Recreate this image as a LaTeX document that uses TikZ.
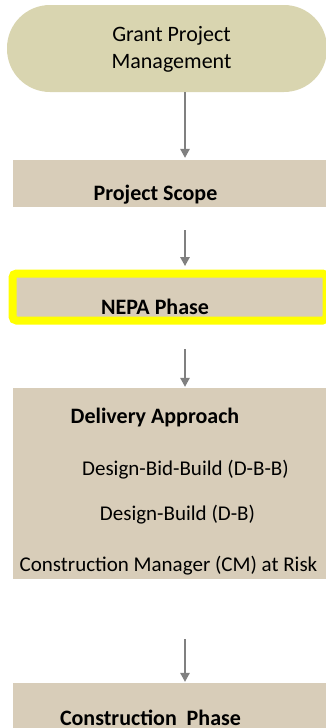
\documentclass[tikz,border=0pt]{standalone}
\usepackage{fontspec}
\setmainfont{Carlito}
\usetikzlibrary{arrows.meta}
\definecolor{pillfill}{RGB}{217,213,176}
\definecolor{boxfill}{RGB}{216,205,185}
\definecolor{arrowgray}{RGB}{128,128,128}
\definecolor{hilite}{RGB}{255,255,0}
\tikzset{
  stagebox/.style={rectangle, fill=boxfill, inner sep=0pt},
  pillbox/.style={rectangle, rounded corners=43pt, fill=pillfill, inner sep=0pt,
    minimum width=320pt, minimum height=87pt},
  hotbox/.style={stagebox, draw=hilite, line width=8pt, rounded corners=4pt},
  titletext/.style={inner sep=0pt, anchor=base, font=\bfseries\fontsize{22}{27}\selectfont},
  itemtext/.style={inner sep=0pt, anchor=base, font=\fontsize{21}{26}\selectfont},
  flow/.style={draw=arrowgray, line width=1.4pt, -{Triangle[width=9.5pt,length=9pt]}}
}
\begin{document}
\begin{tikzpicture}[x=1pt,y=-1pt]
  \useasboundingbox (0,0) rectangle (325,728);

  % stages
  \node[pillbox] (pill) at (167,48.5) {};
  \node[stagebox, minimum width=317pt, minimum height=47pt] (scope) at (171.5,183.5) {};
  \node[hotbox, minimum width=314pt, minimum height=47pt] (nepa) at (169.5,297) {};
  \node[stagebox, minimum width=317pt, minimum height=191pt] (deliv) at (171.5,483.5) {};
  \node[stagebox, minimum width=317pt, minimum height=52pt] (constr) at (171.5,709) {};

  % labels
  \node[inner sep=0pt, align=center, font=\fontsize{22}{27}\selectfont] (gpm) at (171.5,49)
    {Grant Project\\Management};
  \node[titletext] (scopet) at (155.5,200) {Project Scope};
  \node[titletext] (nepat) at (155,314) {NEPA Phase};
  \node[titletext] (delivt) at (155,423) {Delivery Approach};
  \node[itemtext] (dbb) at (185.5,475) {Design-Bid-Build (D-B-B)};
  \node[itemtext] (db) at (177.5,520) {Design-Build (D-B)};
  \node[itemtext] (cmr) at (168.5,571) {Construction Manager (CM) at Risk};
  \node[titletext] (constrt) at (150.5,725) {Construction\ \ Phase};

  % connectors along a common vertical axis
  \coordinate (axis) at (185,0);
  \draw[flow, shorten >=2pt] (pill.south -| axis) -- (scope.north -| axis);
  \draw[flow, shorten <=23pt, shorten >=3.5pt] (scope.south -| axis) -- (nepa.north -| axis);
  \draw[flow, shorten <=24.5pt, shorten >=1pt] (nepa.south -| axis) -- (deliv.north -| axis);
  \draw[flow, shorten <=60pt, shorten >=1pt] (deliv.south -| axis) -- (constr.north -| axis);
\end{tikzpicture}
\end{document}
